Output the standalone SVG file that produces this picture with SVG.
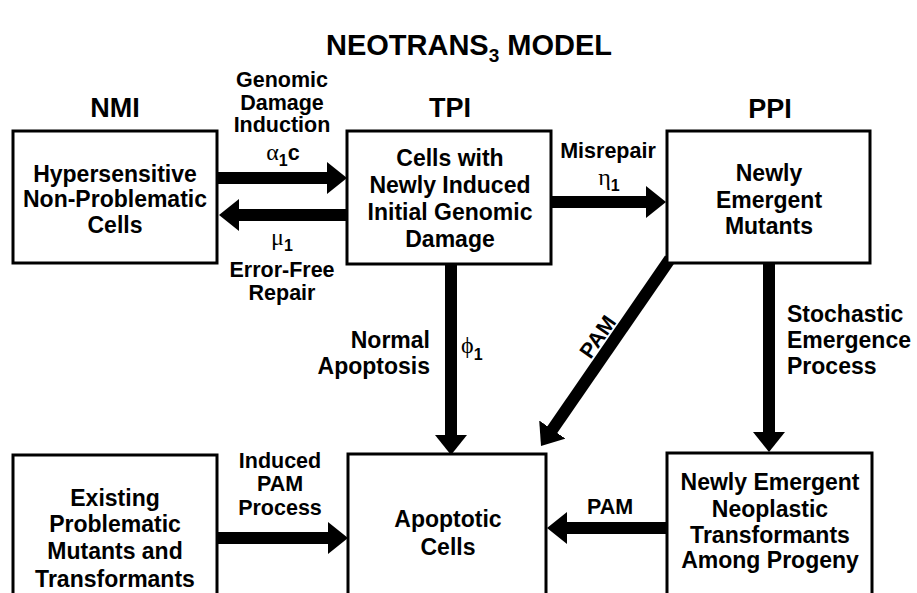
<svg xmlns="http://www.w3.org/2000/svg" width="917" height="593" viewBox="0 0 917 593">
<style>
.box{fill:#fff;stroke:#000;stroke-width:3}
text{font-family:"Liberation Sans",Arial,sans-serif;font-weight:bold;fill:#000;text-anchor:middle}
.t{font-size:23px}
.h{font-size:27px}
.l{font-size:21.5px}
.s{font-size:23px}
.g{font-family:"Liberation Serif","Times New Roman",serif;font-weight:normal;font-size:24px}
.sub{font-size:16px}
.c{stroke:#000;stroke-width:12;fill:none;marker-end:url(#ah)}
</style>
<defs>
<marker id="ah" viewBox="0 0 20 32" markerWidth="20" markerHeight="32" refX="1" refY="16" orient="auto" markerUnits="userSpaceOnUse"><path d="M0,0 L20,16 L0,32 Z" fill="#000"/></marker>
</defs>
<rect x="0" y="0" width="917" height="593" fill="#fff"/>
<text x="469" y="55" font-size="29">NEOTRANS<tspan font-size="19" dy="7">3</tspan><tspan dy="-7"> MODEL</tspan></text>
<text class="h" x="115" y="117">NMI</text>
<text class="h" x="450" y="117">TPI</text>
<text class="h" x="770" y="118">PPI</text>
<g id="connectors">
<line class="c" x1="218" y1="178" x2="328" y2="178"/>
<line class="c" x1="346" y1="215" x2="238" y2="215"/>
<line class="c" x1="552" y1="202" x2="647" y2="202"/>
<line class="c" x1="451" y1="265" x2="451" y2="436"/>
<line class="c" x1="769" y1="264" x2="769" y2="433"/>
<line class="c" x1="670" y1="259" x2="551.8" y2="430.4"/>
<line class="c" x1="218" y1="538" x2="329" y2="538"/>
<line class="c" x1="666" y1="528" x2="566" y2="528"/>
<text class="l" x="282" y="87">Genomic</text>
<text class="l" x="282" y="110">Damage</text>
<text class="l" x="282" y="132">Induction</text>
<text x="283" y="160" class="l"><tspan class="g">α</tspan><tspan class="sub" dy="6">1</tspan><tspan dy="-6">c</tspan></text>
<text x="282" y="245" class="l"><tspan class="g">μ</tspan><tspan class="sub" dy="6">1</tspan></text>
<text class="l" x="282" y="277">Error-Free</text>
<text class="l" x="282" y="300">Repair</text>
<text class="l" x="608" y="158">Misrepair</text>
<text x="609" y="185" class="l"><tspan class="g">η</tspan><tspan class="sub" dy="6">1</tspan></text>
<text class="s" x="430" y="348" style="text-anchor:end">Normal</text>
<text class="s" x="430" y="374" style="text-anchor:end">Apoptosis</text>
<text x="461" y="353" class="l" style="text-anchor:start"><tspan class="g">ϕ</tspan><tspan class="sub" dy="7">1</tspan></text>
<text class="l" transform="translate(598,337) rotate(-55)" x="0" y="7">PAM</text>
<text class="s" x="787" y="322" style="text-anchor:start">Stochastic</text>
<text class="s" x="787" y="348" style="text-anchor:start">Emergence</text>
<text class="s" x="787" y="374" style="text-anchor:start">Process</text>
<text class="l" x="280" y="468">Induced</text>
<text class="l" x="280" y="491">PAM</text>
<text class="l" x="280" y="515">Process</text>
<text class="l" x="610" y="514">PAM</text>
</g>
<g id="nmi">
<rect class="box" x="13" y="131" width="204" height="132"/>
<text class="t" x="115" y="182">Hypersensitive</text>
<text class="t" x="115" y="207">Non-Problematic</text>
<text class="t" x="115" y="233">Cells</text>
</g>
<g id="tpi">
<rect class="box" x="347" y="131" width="204" height="133"/>
<text class="t" x="450" y="166">Cells with</text>
<text class="t" x="450" y="193">Newly Induced</text>
<text class="t" x="450" y="220">Initial Genomic</text>
<text class="t" x="450" y="247">Damage</text>
</g>
<g id="ppi">
<rect class="box" x="667" y="131" width="203" height="132"/>
<text class="t" x="769" y="181">Newly</text>
<text class="t" x="769" y="208">Emergent</text>
<text class="t" x="769" y="234">Mutants</text>
</g>
<g id="existing">
<rect class="box" x="13" y="455" width="204" height="160"/>
<text class="t" x="115" y="506">Existing</text>
<text class="t" x="115" y="532">Problematic</text>
<text class="t" x="115" y="559">Mutants and</text>
<text class="t" x="115" y="587">Transformants</text>
</g>
<g id="apoptotic">
<rect class="box" x="348" y="454" width="198" height="160"/>
<text class="t" x="448" y="527">Apoptotic</text>
<text class="t" x="448" y="555">Cells</text>
</g>
<g id="neoplastic">
<rect class="box" x="667" y="453" width="205" height="160"/>
<text class="t" x="770" y="490">Newly Emergent</text>
<text class="t" x="770" y="517">Neoplastic</text>
<text class="t" x="770" y="543">Transformants</text>
<text class="t" x="770" y="568">Among Progeny</text>
</g>
</svg>
